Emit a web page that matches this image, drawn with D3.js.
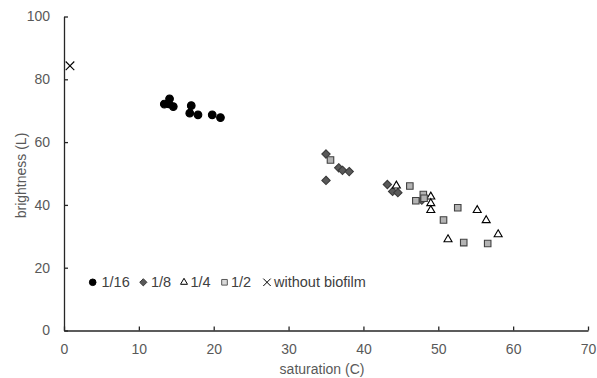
<!DOCTYPE html>
<html>
<head>
<meta charset="utf-8">
<script src="https://cdn.jsdelivr.net/npm/d3@7"></script>
<style>
  body { margin: 0; background: #fff; }
  text { font-family: "Liberation Sans", Arial, sans-serif; }
</style>
</head>
<body>
<svg id="chart" width="597" height="378"></svg>
<script>
// data: [saturation C, brightness L]
const xTicks = [0, 10, 20, 30, 40, 50, 60, 70];
const yTicks = [0, 20, 40, 60, 80, 100];
const s16 = [[13.4, 72.1], [14.0, 72.2], [14.1, 73.8], [14.6, 71.3], [17.0, 71.6], [16.8, 69.2], [17.9, 68.7], [19.8, 68.7], [20.9, 67.8]];
const s8 = [[35.0, 56.2], [35.0, 47.8], [36.7, 51.8], [37.2, 51.0], [38.1, 50.6], [43.2, 46.5], [43.9, 44.3], [44.6, 43.9], [47.8, 41.5]];
const s4 = [[44.4, 46.1], [49.0, 42.6], [49.0, 40.5], [49.0, 38.3], [55.2, 38.3], [56.4, 35.1], [58.0, 30.6], [51.3, 29.0]];
const s2 = [[35.6, 54.3], [46.2, 46.0], [48.0, 43.3], [47.0, 41.3], [48.1, 42.1], [52.6, 39.1], [50.7, 35.2], [53.4, 28.0], [56.6, 27.7]];
const sNone = [[0.8, 84.3]];
const seriesNames = ["1/16", "1/8", "1/4", "1/2", "without biofilm"];

const svg = d3.select("#chart");
const margin = { top: 16.5, right: 9, bottom: 47.5, left: 64 };
const width = +svg.attr("width");
const height = +svg.attr("height");
const innerWidth = width - margin.left - margin.right;
const innerHeight = height - margin.top - margin.bottom;

const xScale = d3.scaleLinear().domain([0, 70]).range([0, innerWidth]);
const yScale = d3.scaleLinear().domain([0, 100]).range([innerHeight, 0]);

const g = svg.append("g").attr("transform", `translate(${margin.left},${margin.top})`);

// axes
const xAxisG = g.append("g")
  .attr("transform", `translate(0,${innerHeight})`)
  .call(d3.axisBottom(xScale).tickValues(xTicks).tickSizeInner(-4).tickSizeOuter(0).tickPadding(14));
const yAxisG = g.append("g")
  .call(d3.axisLeft(yScale).tickValues(yTicks).tickSizeInner(-4).tickSizeOuter(0).tickPadding(14));
[xAxisG, yAxisG].forEach((a) => {
  a.select(".domain").attr("stroke", "#262626").attr("stroke-width", 1.3);
  a.selectAll(".tick line").attr("stroke", "#262626").attr("stroke-width", 1.3);
  a.selectAll(".tick text").attr("fill", "#595959").attr("font-size", 14)
    .style("font-family", "'Liberation Sans', Arial, sans-serif");
});

// axis titles
svg.append("text")
  .attr("x", margin.left + innerWidth / 2 - 4).attr("y", 374)
  .attr("text-anchor", "middle").attr("font-size", 14).attr("fill", "#595959")
  .text("saturation (C)");
svg.append("text")
  .attr("transform", `translate(26,${margin.top + innerHeight / 2 + 2}) rotate(-90)`)
  .attr("text-anchor", "middle").attr("font-size", 14).attr("fill", "#595959")
  .text("brightness (L)");

// marker styles
const styles = [
  { sym: d3.symbolCircle, size: 46, fill: "#000", stroke: "#000" },
  { sym: d3.symbolDiamond2, size: 44, fill: "#595959", stroke: "#3a3a3a" },
  { sym: d3.symbolTriangle2, size: 46, fill: "#fff", stroke: "#000" },
  { sym: d3.symbolSquare2, size: 54, fill: "#b3b3b3", stroke: "#404040" },
  { sym: d3.symbolX, size: 50, fill: "none", stroke: "#000" }
];
const allSeries = [s16, s8, s4, s2, sNone];

allSeries.forEach((data, i) => {
  const st = styles[i];
  g.append("g").selectAll("path")
    .data(data)
    .join("path")
    .attr("transform", (d) => `translate(${xScale(d[0])},${yScale(d[1])})`)
    .attr("d", d3.symbol().type(st.sym).size(st.size))
    .attr("fill", st.fill)
    .attr("stroke", st.stroke)
    .attr("stroke-width", 1.1);
});

// legend
const legendX = [92.7, 143.3, 184, 224.5, 267];
const legendTextX = [101.5, 151, 190.5, 231, 274];
const legend = svg.append("g").attr("transform", "translate(0,282.3)");
seriesNames.forEach((name, i) => {
  const st = styles[i];
  legend.append("path")
    .attr("transform", `translate(${legendX[i]},0)`)
    .attr("d", d3.symbol().type(st.sym).size(st.size * 0.75))
    .attr("fill", i === 3 ? "#d9d9d9" : st.fill)
    .attr("stroke", i === 3 ? "#595959" : st.stroke)
    .attr("stroke-width", 1);
  legend.append("text")
    .attr("x", legendTextX[i]).attr("y", 5)
    .attr("font-size", 14.5).attr("fill", "#404040")
    .text(name);
});
</script>
</body>
</html>
